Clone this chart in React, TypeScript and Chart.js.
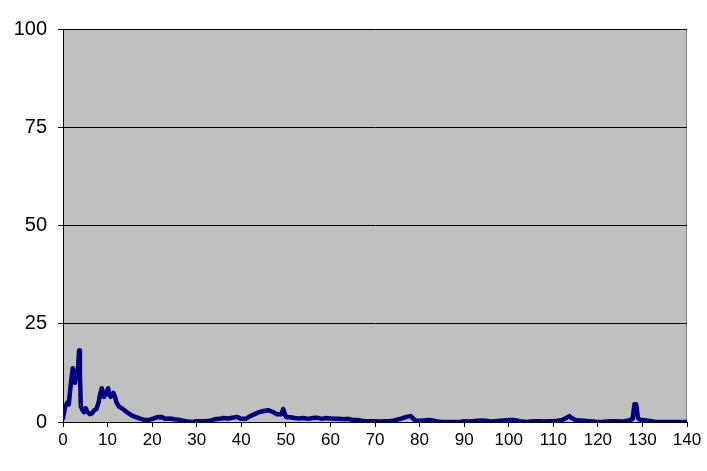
import React, { useEffect, useRef } from "react";
import { Chart, registerables } from "chart.js";

Chart.register(...registerables);

const xValues: number[] = [
  0, 0.5, 1, 1.3, 1.6, 2, 2.2, 2.5, 2.7, 3, 3.3, 3.6, 3.8, 4, 4.4, 4.7, 5.1, 5.5, 6, 6.5, 7, 7.5, 8, 8.3, 8.7, 9.2, 9.6, 10.1, 10.4, 10.7, 11.3, 11.7, 12, 12.5, 13.2, 13.8, 14.3, 15, 15.5, 16.2, 17, 17.5, 18.4, 19, 19.5, 20, 20.6,
  21, 22, 23, 24, 25, 26, 27, 28, 29, 30, 31, 32, 33, 34, 35, 36, 37, 38, 39, 40, 41, 42, 43, 44, 45, 46, 47, 48, 49, 49.4, 50, 51, 52, 53, 54, 55, 56, 57, 58, 59, 60,
  61, 62, 63, 64, 65, 66, 67, 68, 69, 70, 71, 72, 73, 74, 75, 76, 77, 78, 79, 80, 81, 82, 83, 84, 85, 86, 87, 88, 89, 90, 91, 92, 93, 94, 95, 96, 97, 98, 99, 100,
  101, 102, 103, 104, 105, 106, 107, 108, 109, 110, 111, 112, 113, 113.6, 114, 115, 116, 117, 118, 119, 120, 121, 122, 123, 124, 125, 126, 127, 127.8, 128.2, 128.6, 129, 129.5, 130, 131, 132, 133, 134, 135, 136, 137, 138, 139, 140,
];

const yValues: number[] = [
  1, 4, 5, 4.5, 8, 12, 13.7, 12, 10, 13, 12, 18.2, 12, 4, 3, 2.5, 3.5, 2.5, 2, 2.2, 3, 3.3, 5, 7, 8.6, 6.4, 7, 8.6, 7, 6.4, 7.4, 6.3, 5, 4, 3.5, 3, 2.5, 2, 1.6, 1.3, 1, 0.8, 0.5, 0.5, 0.6, 0.8, 1,
  1.2, 1.3, 0.8, 0.9, 0.7, 0.6, 0.3, 0.1, 0, 0.2, 0.2, 0.2, 0.3, 0.7, 0.8, 1, 0.9, 1.1, 1.3, 0.8, 0.8, 1.5, 2, 2.5, 2.8, 3, 2.6, 2, 2, 3.3, 1.3, 1.2, 1, 0.9, 1, 0.8, 1, 1.1, 0.8, 1, 0.9,
  0.8, 0.8, 0.7, 0.8, 0.5, 0.5, 0.3, 0.2, 0.2, 0.2, 0.1, 0.2, 0.2, 0.3, 0.6, 0.9, 1.3, 1.5, 0.4, 0.3, 0.4, 0.5, 0.4, 0.1, 0, 0, 0, 0, 0, 0.2, 0.1, 0.2, 0.3, 0.4, 0.3, 0.1, 0.2, 0.3, 0.4, 0.5,
  0.5, 0.3, 0.1, 0, 0.1, 0.2, 0.2, 0.1, 0.2, 0.2, 0.3, 0.5, 1.1, 1.5, 1.1, 0.5, 0.4, 0.3, 0.2, 0.1, 0, 0, 0.1, 0.2, 0.2, 0.1, 0.2, 0.4, 0.8, 4.5, 4.5, 1, 0.5, 0.5, 0.4, 0.2, 0, 0, 0, 0, 0, 0, 0, 0,
];

const yTicks: number[] = [0, 25, 50, 75, 100];
const xTicks: number[] = [0, 10, 20, 30, 40, 50, 60, 70, 80, 90, 100, 110, 120, 130, 140];

const plotBg = {
  id: "plotBg",
  beforeDraw(chart: any) {
    const { ctx, chartArea } = chart;
    ctx.save();
    ctx.fillStyle = "#C0C0C0";
    ctx.fillRect(chartArea.left, chartArea.top, chartArea.right - chartArea.left, chartArea.bottom - chartArea.top);
    ctx.strokeStyle = "#808080";
    ctx.lineWidth = 1;
    ctx.strokeRect(chartArea.left + 0.5, chartArea.top + 0.5, chartArea.right - chartArea.left - 1, chartArea.bottom - chartArea.top);
    ctx.restore();
  },
};

export default function App() {
  const ref = useRef<HTMLCanvasElement>(null);
  useEffect(() => {
    document.body.style.margin = "0";
    const points = xValues.map((x, i) => ({ x, y: yValues[i] }));
    const chart = new Chart(ref.current!, {
      type: "line",
      data: {
        datasets: [
          {
            data: points,
            borderColor: "#000080",
            backgroundColor: "#000080",
            borderWidth: 4.5,
            pointRadius: 0,
            tension: 0,
            borderJoinStyle: "round",
            borderCapStyle: "round",
          },
        ],
      },
      options: {
        animation: false,
        responsive: false,
        maintainAspectRatio: false,
        layout: { padding: { top: 29, right: 20, left: 0, bottom: 0 } },
        plugins: { legend: { display: false }, tooltip: { enabled: false } },
        scales: {
          x: {
            type: "linear",
            min: 0,
            max: 140,
            afterBuildTicks: (s: any) => {
              s.ticks = xTicks.map((v) => ({ value: v }));
            },
            afterFit: (s: any) => {
              s.height = 49;
            },
            grid: { drawOnChartArea: false, color: "#000", tickLength: 5, tickColor: "#000" },
            border: { color: "#000", width: 1 },
            ticks: { color: "#000", font: { family: "Liberation Sans, Arial", size: 17 }, padding: 3, maxRotation: 0 },
          },
          y: {
            min: 0,
            max: 100,
            afterBuildTicks: (s: any) => {
              s.ticks = yTicks.map((v) => ({ value: v }));
            },
            afterFit: (s: any) => {
              s.width = 63;
            },
            grid: { color: "#000", tickLength: 5, tickColor: "#000" },
            border: { color: "#000", width: 1 },
            ticks: { color: "#000", font: { family: "Liberation Sans, Arial", size: 20 }, padding: 11 },
          },
        },
      },
      plugins: [plotBg],
    });
    return () => chart.destroy();
  }, []);
  return (
    <div style={{ position: "absolute", left: 0, top: 0, width: 707, height: 471, background: "#fff" }}>
      <canvas ref={ref} width={707} height={471} style={{ width: 707, height: 471 }} />
    </div>
  );
}
